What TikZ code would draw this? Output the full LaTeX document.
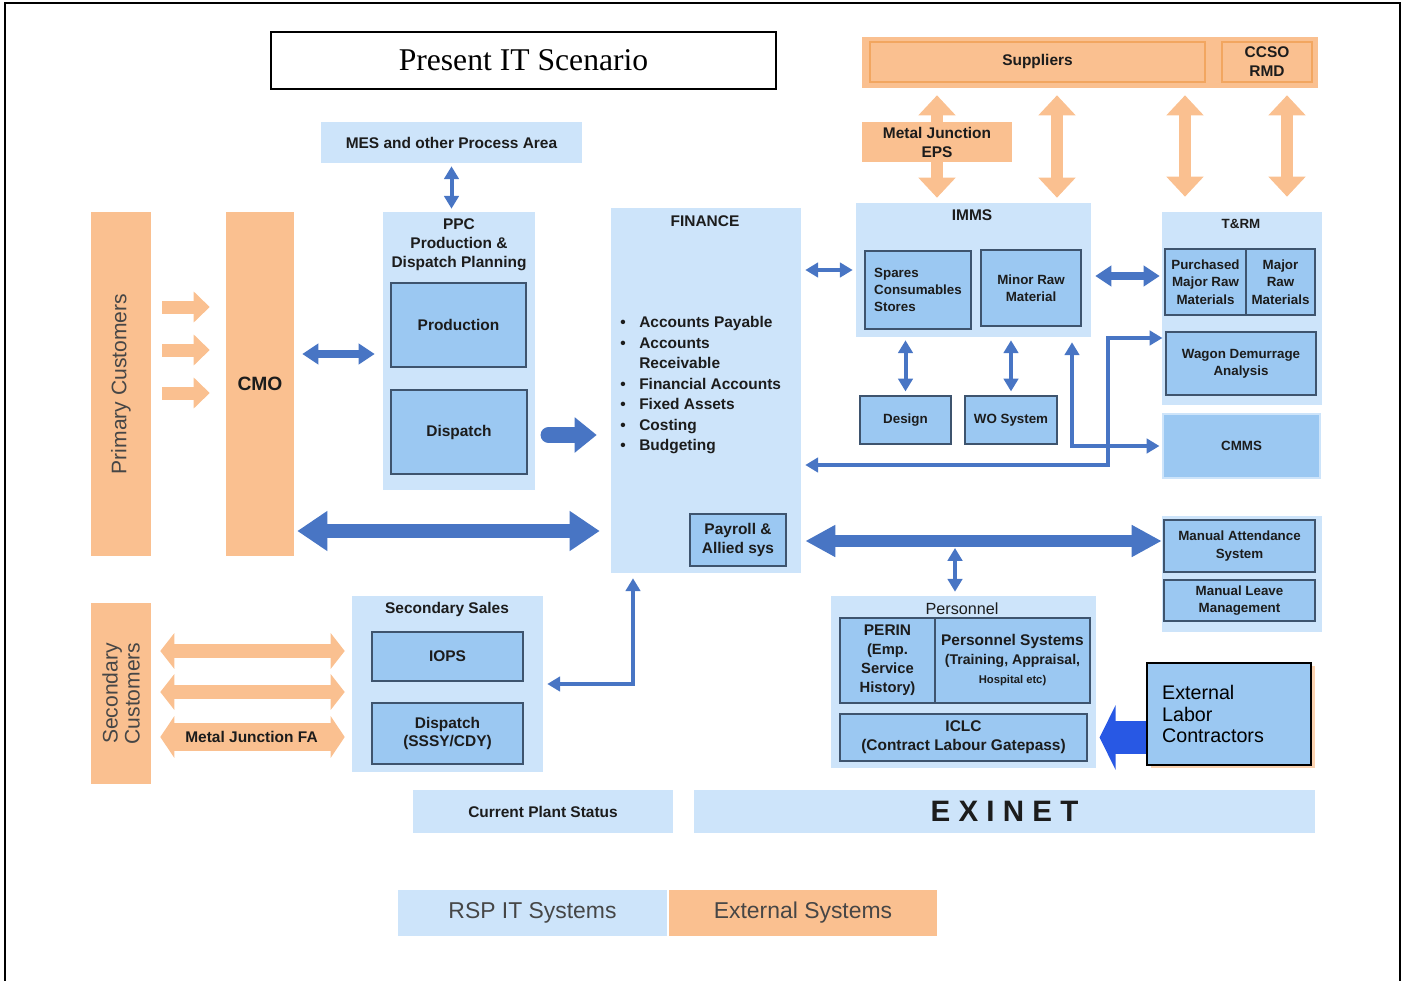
\documentclass[tikz,border=0pt]{standalone}
\usepackage{fontspec}
\setmainfont{Liberation Serif}
\setsansfont{Liberation Sans}
\usetikzlibrary{arrows.meta,positioning,shadows}

\definecolor{rsplight}{RGB}{205,228,250}
\definecolor{rspmid}{RGB}{155,200,242}
\definecolor{edgeblue}{RGB}{62,84,110}
\definecolor{arrblue}{RGB}{72,117,196}
\definecolor{extorange}{RGB}{250,192,144}
\definecolor{orangeedge}{RGB}{242,166,96}
\definecolor{labblue}{RGB}{40,88,228}
\definecolor{txtgray}{RGB}{28,28,28}
\definecolor{softgray}{RGB}{70,70,70}

\begin{document}
\begin{tikzpicture}
  [
  x=0.25mm, y=-0.25mm,
  sz/.style 2 args={minimum width=#1*0.25mm, minimum height=#2*0.25mm},
  grp/.style={rectangle, inner sep=0pt, fill=rsplight},
  sub/.style={rectangle, inner sep=0pt, fill=rspmid, draw=edgeblue, line width=0.8pt},
  ext/.style={rectangle, inner sep=0pt, fill=extorange},
  lbl/.style={font=\sffamily\bfseries\fontsize{11}{13.5}\selectfont, text=txtgray, align=center},
  slbl/.style={font=\sffamily\bfseries\fontsize{9.5}{12.3}\selectfont, text=txtgray, align=center},
  thinarr/.style={draw=arrblue, line width=1mm, >={Triangle[width=3.6mm,length=3.2mm]}},
  midarr/.style={draw=arrblue, line width=1.8mm, >={Triangle[width=5mm,length=4mm]}},
  bigarr/.style={draw=arrblue, line width=3.4mm, >={Triangle[width=9.5mm,length=7.5mm]}},
  orarr/.style={draw=extorange, line width=3.2mm, >={Triangle[width=9mm,length=5mm]}}
  ]

\useasboundingbox (0,0) rectangle (1403,981);
\draw[line width=1.4pt] (5,995) -- (5,3) -- (1400,3) -- (1400,995);

\node[draw=black, line width=1.2pt, fill=white, sz={505}{57}, font=\fontsize{22.5}{27}\selectfont] (title) at (523.5,60.5) {Present IT Scenario};

\node[ext, sz={456}{51}] (supbar) at (1090,62.5) {};
\node[ext, draw=orangeedge, line width=1.2pt, sz={335}{40}, lbl] (sup) at (1037.5,62) {Suppliers};
\node[ext, draw=orangeedge, line width=1.2pt, sz={90}{40}, lbl] (ccso) at (1267,62) {CCSO\\RMD};
\node[ext, sz={150}{40}, lbl] (mje) at (937,142) {Metal Junction\\EPS};

\node[grp, sz={261}{41}, lbl] (mes) at (451.5,142.5) {MES and other Process Area};

\node[ext, sz={60}{344}] (pc) at (121,384) {};
\node[rotate=90, font=\sffamily\fontsize{15}{18}\selectfont, text=softgray] (pct) at (121,384) {Primary Customers};
\node[ext, sz={68}{344}, font=\sffamily\bfseries\fontsize{13.7}{16}\selectfont, text=txtgray] (cmo) at (260,384) {CMO};

\node[grp, sz={152}{278}] (ppc) at (459,351) {};
\node[lbl] (ppct) at (459,245) {PPC\\Production \&\\Dispatch Planning};
\node[sub, sz={135}{84}, lbl] (prod) at (458.5,325) {Production};
\node[sub, sz={136}{84}, lbl] (disp) at (459,432) {Dispatch};

\node[grp, sz={190}{365}] (fin) at (706,390.5) {};
\node[lbl] (fint) at (705,221) {FINANCE};
\node[lbl, anchor=west, inner sep=0pt] (finlist) at (620,385) {\fontsize{11}{14.6}\selectfont
  \begin{tabular}{@{}l@{\hspace{3.4mm}}l@{}}
  \textbullet & Accounts Payable\\
  \textbullet & Accounts\\
  & Receivable\\
  \textbullet & Financial Accounts\\
  \textbullet & Fixed Assets\\
  \textbullet & Costing\\
  \textbullet & Budgeting
  \end{tabular}};
\node[sub, sz={96}{52}, lbl] (pay) at (738,540) {Payroll \&\\Allied sys};

\node[grp, sz={235}{134}] (imms) at (973.5,270) {};
\node[lbl] (immst) at (972,215) {IMMS};
\node[sub, sz={106}{78}, slbl, align=left] (spares) at (918,290) {Spares\\Consumables\\Stores};
\node[sub, sz={100}{76}, slbl] (minor) at (1031,288) {Minor Raw\\Material};
\node[sub, sz={91}{48}, slbl] (design) at (905.5,420) {Design};
\node[sub, sz={92}{48}, slbl] (wo) at (1011,420) {WO System};

\node[grp, sz={160}{193}] (trm) at (1242,308.5) {};
\node[slbl] (trmt) at (1241,224) {T\&RM};
\node[sub, sz={81}{66}, slbl] (purch) at (1205.5,282) {Purchased\\Major Raw\\Materials};
\node[sub, sz={69}{66}, slbl] (major) at (1280.5,282) {Major\\Raw\\Materials};
\node[sub, sz={150}{63}, slbl] (wagon) at (1241,363.5) {Wagon Demurrage\\Analysis};
\node[sub, draw=rsplight, sz={157}{64}, slbl] (cmms) at (1241.5,446) {CMMS};

\node[grp, sz={160}{116}] (man) at (1242,574) {};
\node[sub, sz={151}{52}, slbl] (attend) at (1239.5,546) {Manual Attendance\\System};
\node[sub, sz={151}{41}, slbl] (leave) at (1239.5,600.5) {Manual Leave\\Management};

\node[grp, sz={265}{172}] (pers) at (963.5,682) {};
\node[font=\sffamily\fontsize{11.5}{14}\selectfont, text=txtgray] (perst) at (962,609) {Personnel};
\node[sub, sz={95}{85}, lbl] (perin) at (887.5,660.5) {PERIN\\{\fontsize{10.5}{13.5}\selectfont(Emp.}\\{\fontsize{10.5}{13.5}\selectfont Service}\\{\fontsize{10.5}{13.5}\selectfont History)}};
\node[sub, sz={155}{85}, lbl] (perssys) at (1012.5,660.5) {Personnel Systems\\{\fontsize{10}{13.5}\selectfont(Training, Appraisal,}\\{\fontsize{8}{12}\selectfont Hospital etc)}};
\node[sub, sz={247}{47}, lbl] (iclc) at (963.5,737.5) {ICLC\\(Contract Labour Gatepass)};

\node[sub, draw=black, line width=1.4pt, sz={164}{102}, font=\sffamily\fontsize{14}{15.6}\selectfont, text=black, align=left, drop shadow={fill=extorange, opacity=0.7, shadow xshift=1mm, shadow yshift=-0.8mm}] (elc) at (1229,714) {External\\Labor\\Contractors\hspace*{8mm}};

\node[ext, sz={60}{181}] (sc) at (121,693.5) {};
\node[rotate=90, font=\sffamily\fontsize{15}{15.6}\selectfont, text=softgray, align=center] (sct) at (121,693.5) {Secondary\\Customers};

\node[grp, sz={191}{176}] (ss) at (447.5,684) {};
\node[lbl] (sst) at (447,609) {Secondary Sales};
\node[sub, sz={151}{49}, lbl] (iops) at (447.5,656.5) {IOPS};
\node[sub, sz={151}{61}, lbl] (sdisp) at (447.5,733.5) {Dispatch\\(SSSY/CDY)};

\node[grp, sz={260}{43}, lbl] (cps) at (543,811.5) {Current Plant Status};
\node[grp, sz={621}{43}, font=\sffamily\bfseries\fontsize{21}{24}\selectfont, text=txtgray] (exinet) at (1004.5,811.5) {E X I N E T};

\node[grp, sz={269}{46}, font=\sffamily\fontsize{16.3}{19}\selectfont, text=softgray] (legrsp) at (532.5,913) {RSP IT Systems};
\node[ext, sz={268}{46}, font=\sffamily\fontsize{16.3}{19}\selectfont, text=softgray] (legext) at (803,913) {External Systems};

\draw[orarr, ->, shorten >=1.75mm] (mje.north) -- (mje.north |- supbar.south);
\draw[orarr, ->, shorten >=1.25mm] (mje.south) -- (mje.south |- imms.north);
\draw[orarr, <->, shorten <=1.75mm, shorten >=1.25mm] (supbar.south -| 1057,0) -- (imms.north -| 1057,0);
\foreach \x in {1185,1287} {
  \draw[orarr, <->, shorten <=1.75mm, shorten >=3.75mm] (supbar.south -| \x,0) -- (trm.north -| \x,0);
}

\foreach \y in {307,350,393} {
  \draw[orarr, line width=3.25mm, >={Triangle[width=7.5mm,length=4mm]}, ->, shorten <=2.75mm, shorten >=4mm] (pc.east |- 0,\y) -- (cmo.west |- 0,\y);
}
\foreach \y in {651,692} {
  \draw[orarr, line width=3.5mm, >={Triangle[width=8.75mm,length=3.5mm]}, <->, shorten <=2.25mm, shorten >=1.75mm] (sc.east |- 0,\y) -- (ss.west |- 0,\y);
}
\draw[orarr, line width=7mm, >={Triangle[width=10.25mm,length=3.5mm]}, <->, shorten <=2.25mm, shorten >=1.75mm] (sc.east |- 0,737) -- node[lbl] (mjfa) {Metal Junction FA} (ss.west |- 0,737);

\draw[thinarr, <->, shorten <=0.75mm, shorten >=0.75mm] (mes.south) -- (mes.south |- ppc.north);
\draw[midarr, <->, shorten <=2mm, shorten >=2mm] (cmo.east |- 0,354) -- (ppc.west |- 0,354);
\draw[arrblue, line width=4mm, line cap=round, -{Triangle[width=8.5mm,length=5.5mm]}, shorten <=5.25mm, shorten >=3.5mm] (disp.east |- 0,435) -- (fin.west |- 0,435);
\draw[bigarr, <->, shorten <=0.75mm, shorten >=2.75mm] (cmo.east |- 0,531) -- (fin.west |- 0,531);

\draw[thinarr, <->, shorten <=1mm, shorten >=0.75mm] (fin.east |- imms.west) -- (imms.west);
\draw[thinarr, <->, shorten <=0.75mm, shorten >=1mm] (design.north |- imms.south) -- (design.north);
\draw[thinarr, <->, shorten <=0.75mm, shorten >=1mm] (wo.north |- imms.south) -- (wo.north);
\draw[midarr, <->, shorten <=1mm, shorten >=0.5mm] (imms.east |- 0,276) -- (trm.west |- 0,276);
\draw[thinarr, <->, shorten <=1mm, shorten >=0.75mm] (fin.east |- 0,465) -- (1108,465) |- (wagon.west |- 0,338);
\draw[thinarr, <->, shorten <=1.25mm, shorten >=0.75mm] (imms.south -| 1072,0) |- (cmms.west);

\draw[bigarr, line width=2.9mm, >={Triangle[width=7.5mm,length=7.5mm]}, <->, shorten <=1mm] (fin.east |- 0,541) -- (man.west |- 0,541);
\coordinate (bus) at (955,546);
\draw[thinarr, <->, shorten <=0.5mm, shorten >=1mm] (bus) -- (bus |- pers.north);
\draw[thinarr, <->, shorten <=1.25mm, shorten >=1mm] (fin.south -| 633,0) |- (ss.east);

\draw[labblue, line width=8.25mm, -{Triangle[width=16mm,length=4mm]}, shorten >=3mm] (elc.west |- iclc.east) -- (iclc.east);

\end{tikzpicture}
\end{document}
